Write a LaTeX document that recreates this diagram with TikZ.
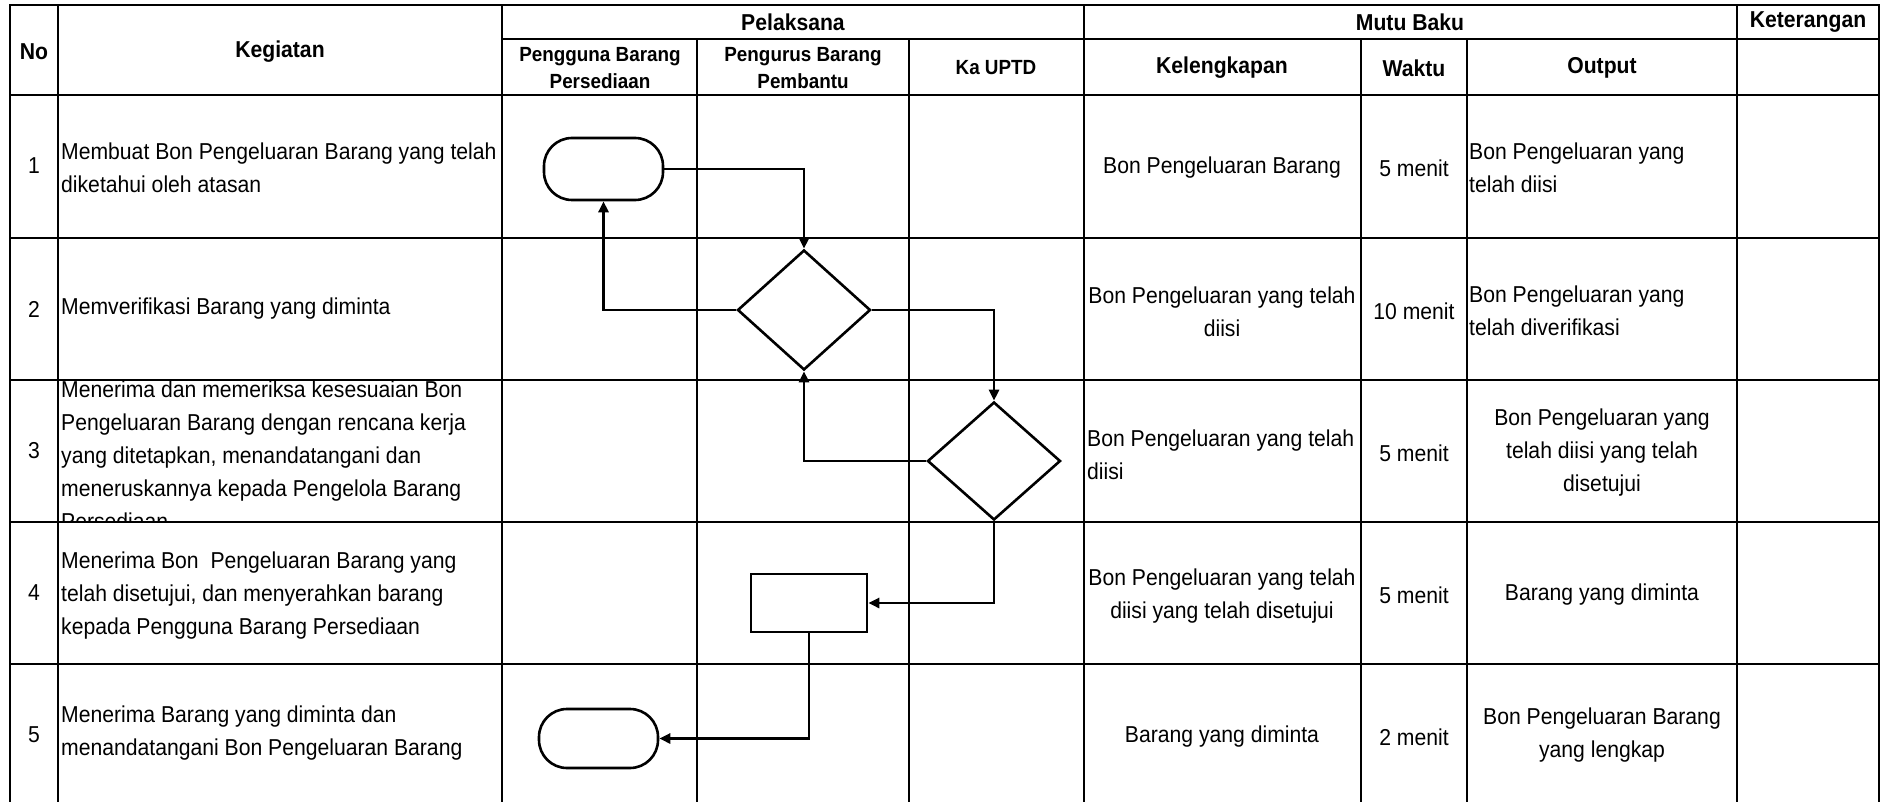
\documentclass[tikz,border=0pt]{standalone}
\usepackage{fontspec}
\setmainfont{Liberation Sans}[FakeStretch=0.92]
\usetikzlibrary{shapes.geometric,arrows.meta}
\begin{document}
\begin{tikzpicture}[x=1pt,y=-1pt,
  grid/.style={line width=1.6pt},
  frame/.style={line width=2.6pt},
  body/.style={font=\fontsize{23}{33}\selectfont, inner sep=0pt},
  hbig/.style={font=\fontsize{23}{28}\selectfont\bfseries, inner sep=0pt, align=center},
  hsmall/.style={font=\fontsize{20.5}{27}\selectfont\bfseries, inner sep=0pt, align=center},
  term/.style={draw, line width=2.6pt, rounded corners=28pt, minimum width=119pt, minimum height=62pt, inner sep=0pt},
  dec/.style={draw, diamond, line width=2.6pt, minimum width=133pt, minimum height=120pt, inner sep=0pt},
  proc/.style={draw, rectangle, line width=2.6pt, minimum width=116pt, minimum height=58pt, inner sep=0pt},
  flow/.style={line width=2.6pt, -{Triangle[length=11pt,width=10pt]}},
]
\fill[white] (0,0) rectangle (1890,802);
\useasboundingbox (0,0) rectangle (1890,802);

% grid
\foreach \x in {58,502,1084,1737} \draw[grid] (\x,5) -- (\x,802);
\foreach \x in {697,909,1361,1467} \draw[grid] (\x,39) -- (\x,802);
\draw[grid] (502,39) -- (1879,39);
\foreach \y in {238,380,522,664} \draw[grid] (10,\y) -- (1879,\y);
\draw[frame] (10,802) -- (10,5) -- (1879,5) -- (1879,802);
\draw[frame] (10,95) -- (1879,95);

% header
\node[hbig] (hNo) at (34,52) {No};
\node[hbig] (hKeg) at (280,52) {Kegiatan};
\node[hbig] (hPel) at (793,22) {Pelaksana};
\node[hbig] (hMutu) at (1410,22) {Mutu Baku};
\node[hbig] (hKet) at (1808,22) {Keterangan};
\node[hsmall] (hPBP) at (600,68) {Pengguna Barang\\Persediaan};
\node[hsmall] (hPBB) at (803,68) {Pengurus Barang\\Pembantu};
\node[hsmall] (hKa) at (996,68) {Ka UPTD};
\node[hbig] (hKel) at (1222,68) {Kelengkapan};
\node[hbig] (hWak) at (1414,68) {Waktu};
\node[hbig] (hOut) at (1602,68) {Output};

% numbers
\node[body] (n1) at (34,166) {1};
\node[body] (n2) at (34,309) {2};
\node[body] (n3) at (34,451) {3};
\node[body] (n4) at (34,593) {4};
\node[body] (n5) at (34,735) {5};

% kegiatan
\node[body, anchor=west, align=left] (k1) at (61,168) {Membuat Bon Pengeluaran Barang yang telah\\diketahui oleh atasan};
\node[body, anchor=west, align=left] (k2) at (61,309) {Memverifikasi Barang yang diminta};
\begin{scope}
\clip (58,381) rectangle (502,521);
\node[body, anchor=west, align=left] (k3) at (61,455) {Menerima dan memeriksa kesesuaian Bon\\Pengeluaran Barang dengan rencana kerja\\yang ditetapkan, menandatangani dan\\meneruskannya kepada Pengelola Barang\\Persediaan};
\end{scope}
\node[body, anchor=west, align=left] (k4) at (61,596) {Menerima Bon\ \ Pengeluaran Barang yang\\telah disetujui, dan menyerahkan barang\\kepada Pengguna Barang Persediaan};
\node[body, anchor=west, align=left] (k5) at (61,733) {Menerima Barang yang diminta dan\\menandatangani Bon Pengeluaran Barang};

% kelengkapan
\node[body, align=center] (c1) at (1222,168) {Bon Pengeluaran Barang};
\node[body, align=center] (c2) at (1222,312) {Bon Pengeluaran yang telah\\diisi};
\node[body, anchor=west, align=left] (c3) at (1087,455) {Bon Pengeluaran yang telah\\diisi};
\node[body, align=center] (c4) at (1222,596) {Bon Pengeluaran yang telah\\diisi yang telah disetujui};
\node[body, align=center] (c5) at (1222,737) {Barang yang diminta};

% waktu
\node[body] (w1) at (1414,168) {5 menit};
\node[body] (w2) at (1414,311) {10 menit};
\node[body] (w3) at (1414,453) {5 menit};
\node[body] (w4) at (1414,595) {5 menit};
\node[body] (w5) at (1414,737) {2 menit};

% output
\node[body, anchor=west, align=left] (o1) at (1469,168) {Bon Pengeluaran yang\\telah diisi};
\node[body, anchor=west, align=left] (o2) at (1469,311) {Bon Pengeluaran yang\\telah diverifikasi};
\node[body, align=center] (o3) at (1602,453) {Bon Pengeluaran yang\\telah diisi yang telah\\disetujui};
\node[body, align=center] (o4) at (1602,595) {Barang yang diminta};
\node[body, align=center] (o5) at (1602,735) {Bon Pengeluaran Barang\\yang lengkap};

% flow shapes
\node[term] (t1) at (603.5,169) {};
\node[dec] (d1) at (804,310) {};
\node[dec, minimum height=118pt] (d2) at (994,461) {};
\node[proc] (p1) at (809,603) {};
\node[term, minimum height=59pt] (t2) at (598.5,738.5) {};

\draw[flow] (t1.east) -| (d1.north);
\draw[flow] (d1.west) -| (t1.south);
\draw[flow] (d1.east) -| (d2.north);
\draw[flow] (d2.west) -| (d1.south);
\draw[flow] (d2.south) |- (p1.east);
\draw[flow] (p1.south) |- (t2.east);
\end{tikzpicture}
\end{document}
